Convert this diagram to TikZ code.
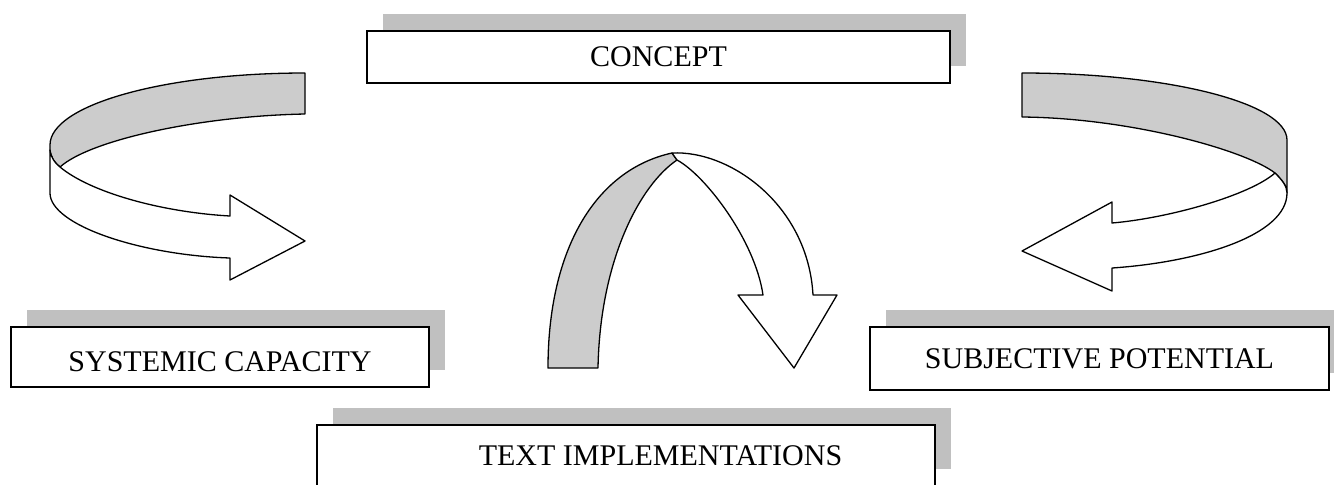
\documentclass[tikz,border=0pt]{standalone}
\usepackage{fontspec}
\setmainfont{Liberation Serif}
\usetikzlibrary{shadows}
\definecolor{shadowgray}{RGB}{192,192,192}
\definecolor{bandgray}{RGB}{204,204,204}
\begin{document}
\begin{tikzpicture}[x=0.5pt, y=-0.5pt,
  every node/.style={draw, line width=1pt, fill=white, inner sep=0pt, font=\fontsize{15}{18}\selectfont,
    drop shadow={shadow xshift=8pt, shadow yshift=8.5pt, opacity=1, fill=shadowgray, draw=none}},
  back/.style={draw, line width=0.65pt, fill=bandgray, line join=round},
  front/.style={draw, line width=0.65pt, fill=white, line join=round}]
\useasboundingbox (0,0) rectangle (1334,484);
\node[minimum width=291.5pt, minimum height=26pt] (concept) at (658.5,57) {CONCEPT};
\node[minimum width=209pt, minimum height=30pt, text height=14pt, text depth=0pt] (systemic) at (220,357) {SYSTEMIC CAPACITY};
\node[minimum width=229.5pt, minimum height=31.5pt] (subjective) at (1099.5,358.5) {SUBJECTIVE POTENTIAL};
\node[minimum width=309pt, minimum height=30.5pt] (impl) at (626,455.5) {\hspace*{34.5pt}TEXT IMPLEMENTATIONS};
\draw[back] (305,73) .. controls (164,73) and (50,105) .. (50,145) -- (50,150) .. controls (51,158) and (55,163) .. (60,167) .. controls (90,140) and (200,116) .. (305,114) -- cycle;
\draw[front] (50,150) -- (50,193) .. controls (50,225) and (140,255) .. (230,258) -- (230,280) -- (305,241) -- (230,195) -- (230,216) .. controls (160,212) and (90,192) .. (60,167) .. controls (55,163) and (51,158) .. (50,150) -- cycle;
\draw[back] (1022,73) .. controls (1168,73) and (1287,103) .. (1287,140) -- (1287,193) .. controls (1287,186) and (1282,180) .. (1275,173) .. controls (1245,150) and (1130,118) .. (1022,117) -- cycle;
\draw[front] (1275,173) .. controls (1282,180) and (1287,186) .. (1287,193) .. controls (1287,235) and (1200,262) .. (1112,268) -- (1112,291) -- (1022,251) -- (1112,202) -- (1112,223) .. controls (1170,218) and (1250,195) .. (1275,173) -- cycle;
\draw[back] (548,368) .. controls (548,250) and (595,170) .. (672,153) -- (677,160) .. controls (640,185) and (600,260) .. (598,368) -- cycle;
\draw[front] (672,153) .. controls (730,150) and (808,205) .. (813,295) -- (837,295) -- (794,368) -- (738,295) -- (763,295) .. controls (755,240) and (705,175) .. (677,160) -- cycle;
\end{tikzpicture}
\end{document}
